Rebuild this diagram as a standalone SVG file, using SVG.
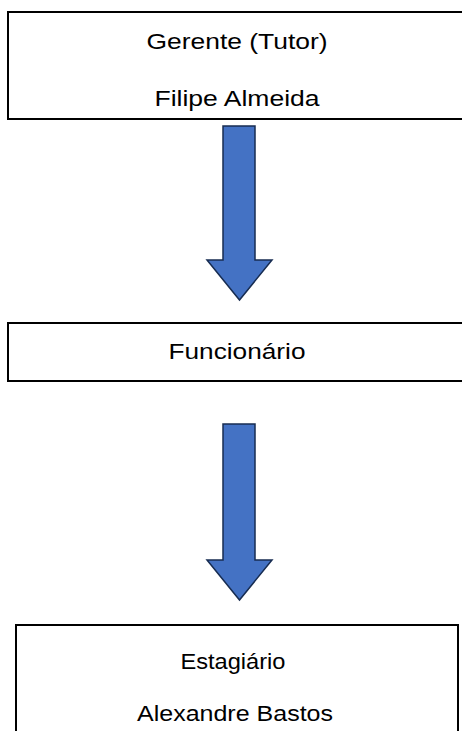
<svg xmlns="http://www.w3.org/2000/svg" width="462" height="731" viewBox="0 0 462 731">
<style>
.box{fill:#fff;stroke:#000;stroke-width:2}
.t{font-family:"Liberation Sans",Arial,sans-serif;font-size:22px;fill:#000;text-anchor:middle}
.arrow{fill:#4472C4;stroke:#172C51;stroke-width:1.5;stroke-linejoin:miter}
</style>
<rect width="462" height="731" fill="#fff"/>
<g id="node-gerente">
<path class="box" d="M470,12 H8 V119 H470"/>
<text class="t" x="237" y="49" textLength="181" lengthAdjust="spacingAndGlyphs">Gerente (Tutor)</text>
<text class="t" x="237" y="106" textLength="165" lengthAdjust="spacingAndGlyphs">Filipe Almeida</text>
</g>
<g id="node-funcionario">
<path class="box" d="M470,323 H8 V381 H470"/>
<text class="t" x="237" y="359" textLength="137" lengthAdjust="spacingAndGlyphs">Funcionário</text>
</g>
<g id="node-estagiario">
<path class="box" d="M16,740 V625 H458 V740"/>
<text class="t" x="233" y="669" textLength="105" lengthAdjust="spacingAndGlyphs">Estagiário</text>
<text class="t" x="235" y="721" textLength="196" lengthAdjust="spacingAndGlyphs">Alexandre Bastos</text>
</g>
<g id="connectors">
<path class="arrow" d="M223,126 H255 V260 H272 L239.5,300 L207,260 H223 Z"/>
<path class="arrow" d="M223,424 H255 V560 H272 L239.5,600 L207,560 H223 Z"/>
</g>
</svg>
